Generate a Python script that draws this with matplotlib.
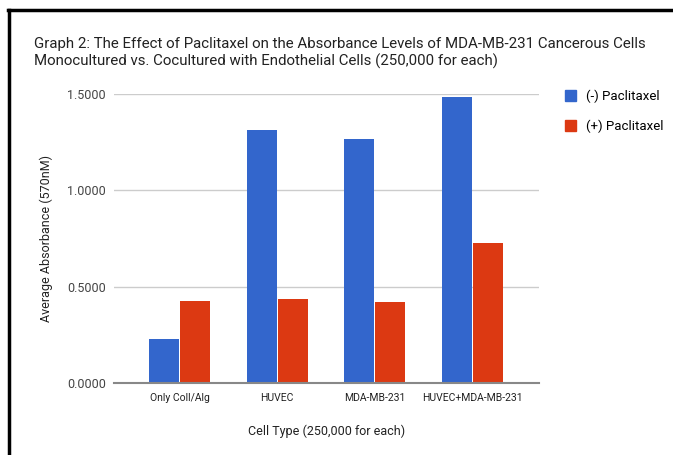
import matplotlib
matplotlib.use("Agg")
import matplotlib.pyplot as plt
from matplotlib.lines import Line2D
from matplotlib.patches import Patch
import numpy as np

plt.rcParams["font.family"] = ["Roboto", "DejaVu Sans"]

# データ
CATEGORIES = ["Only Coll/Alg", "HUVEC", "MDA-MB-231", "HUVEC+MDA-MB-231"]
NO_PACLITAXEL = [0.228, 1.313, 1.266, 1.484]
WITH_PACLITAXEL = [0.426, 0.436, 0.420, 0.727]
SERIES_LABELS = ["(-) Paclitaxel", "(+) Paclitaxel"]
Y_TICKS = [0.0, 0.5, 1.0, 1.5]

BLUE = "#3366CC"
RED = "#DC3912"

W, H = 673, 455
fig = plt.figure(figsize=(W / 100, H / 100), dpi=100)
ax = fig.add_axes([114 / W, 1 - 383 / H, (539 - 114) / W, (383 - 94) / H])

x = np.arange(len(CATEGORIES))
bw = 0.307
ax.bar(x - bw / 2 - 0.005, NO_PACLITAXEL, bw, color=BLUE, zorder=3)
ax.bar(x + bw / 2 + 0.005, WITH_PACLITAXEL, bw, color=RED, zorder=3)

ax.set_xlim(-0.67, 3.68)
ax.set_ylim(0, 1.5)
ax.set_yticks(Y_TICKS)
ax.set_yticklabels([f"{v:.4f}" for v in Y_TICKS], fontsize=9, color="#444444")
ax.set_xticks(x)
ax.set_xticklabels(CATEGORIES, fontsize=7.5, color="#222222")
ax.tick_params(length=0, pad=6)
ax.tick_params(axis="x", pad=7)

ax.grid(axis="y", color="#CCCCCC", linewidth=1, zorder=0)
for s in ["top", "right", "left"]:
    ax.spines[s].set_visible(False)
ax.spines["bottom"].set_color("#888888")
ax.spines["bottom"].set_linewidth(1.5)
ax.spines["bottom"].set_zorder(4)

ax.set_ylabel("Average Absorbance (570nM)", fontsize=9, color="#222222", labelpad=10)
ax.set_xlabel("Cell Type (250,000 for each)", fontsize=9, color="#222222", labelpad=16)

fig.text(34 / W, 1 - 53 / H,
         "Graph 2: The Effect of Paclitaxel on the Absorbance Levels of MDA-MB-231 Cancerous Cells\n"
         "Monocultured vs. Cocultured with Endothelial Cells (250,000 for each)",
         fontsize=10.8, color="#222222", va="center", ha="left", linespacing=1.3)

# 凡例
handles = [Patch(color=BLUE), Patch(color=RED)]
fig.legend(handles, SERIES_LABELS, loc="upper left", bbox_to_anchor=(553 / W, 1 - 78 / H),
           frameon=False, fontsize=9.5, handlelength=0.85, handleheight=0.9,
           labelspacing=1.25, handletextpad=0.75)

# 枠線（上と左）
fig.add_artist(Line2D([8 / W, 1], [1 - 10 / H, 1 - 10 / H], color="black", linewidth=2.5))
fig.add_artist(Line2D([9 / W, 9 / W], [0, 1 - 10 / H], color="black", linewidth=2.5))

fig.savefig("out.png", dpi=100)
